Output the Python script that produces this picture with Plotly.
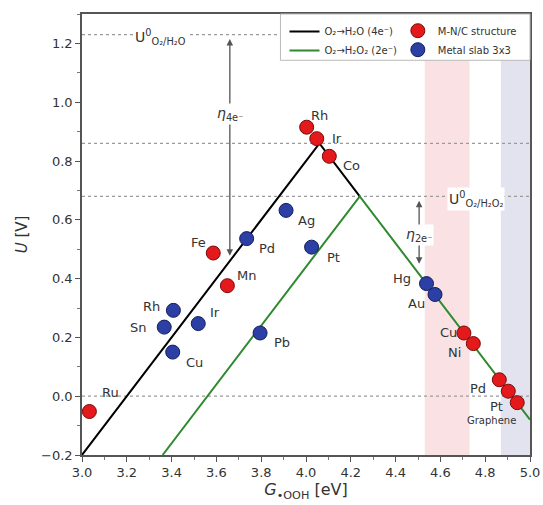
import plotly.graph_objects as go

# ---- data ----
mnc_names = ["Ru", "Fe", "Mn", "Rh", "Ir", "Co", "Cu", "Ni", "Pd", "Pt", "Graphene"]
mnc_g = [3.033, 3.586, 3.649, 4.003, 4.048, 4.104, 4.705, 4.747, 4.863, 4.903, 4.943]
mnc_u = [-0.052, 0.487, 0.376, 0.915, 0.876, 0.816, 0.215, 0.179, 0.056, 0.017, -0.022]

slab_names = ["Rh", "Sn", "Ir", "Cu", "Pd", "Ag", "Pt", "Pb", "Hg", "Au"]
slab_g = [3.408, 3.367, 3.519, 3.405, 3.735, 3.911, 4.025, 3.795, 4.538, 4.576]
slab_u = [0.292, 0.235, 0.247, 0.150, 0.536, 0.632, 0.507, 0.215, 0.383, 0.346]

line4e_g = [3.0, 4.06, 4.24]
line4e_u = [-0.2, 0.86, 0.68]
line2e_g = [3.36, 4.24, 5.0]
line2e_u = [-0.2, 0.68, -0.08]

ref_levels = [1.23, 0.86, 0.68, 0.0]
pink_band = [4.53, 4.73]
lavender_band = [4.87, 5.0]

# label offsets (layout only)
mnc_off = [(0.095, 0.065), (-0.067, 0.037), (0.086, 0.034), (0.059, 0.04), (0.092, 0.0),
           (0.10, -0.031), (-0.07, 0.0), (-0.082, -0.032), (-0.097, -0.031), (-0.052, -0.052),
           (-0.114, -0.062)]
slab_off = [(-0.097, 0.013), (-0.116, 0.0), (0.075, 0.039), (0.099, -0.034), (0.089, -0.034),
            (0.092, -0.034), (0.097, -0.034), (0.096, -0.034), (-0.111, 0.017), (-0.082, -0.032)]

FONT = "DejaVu Sans"
TXT = "#333333"

fig = go.Figure()

fig.add_trace(go.Scatter(x=line4e_g, y=line4e_u, mode="lines",
                         line=dict(color="black", width=2),
                         name="O₂→H₂O (4e⁻)", legend="legend"))
fig.add_trace(go.Scatter(x=line2e_g, y=line2e_u, mode="lines",
                         line=dict(color="#2f8a2f", width=2),
                         name="O₂→H₂O₂ (2e⁻)", legend="legend"))
fig.add_trace(go.Scatter(x=mnc_g, y=mnc_u, mode="markers",
                         marker=dict(size=14, color="#e3191c", line=dict(color="#7a0a0a", width=1)),
                         name="M-N/C structure", legend="legend2"))
fig.add_trace(go.Scatter(x=slab_g, y=slab_u, mode="markers",
                         marker=dict(size=14, color="#2b3fa5", line=dict(color="#141c5c", width=1)),
                         name="Metal slab 3x3", legend="legend2"))

shapes = []
shapes.append(dict(type="rect", xref="x", yref="paper", x0=pink_band[0], x1=pink_band[1],
                   y0=0, y1=1, fillcolor="rgba(245,190,195,0.45)", line_width=0, layer="below"))
shapes.append(dict(type="rect", xref="x", yref="paper", x0=lavender_band[0], x1=lavender_band[1],
                   y0=0, y1=1, fillcolor="rgba(200,200,225,0.5)", line_width=0, layer="below"))
for lv in ref_levels:
    shapes.append(dict(type="line", xref="paper", yref="y", x0=0, x1=1, y0=lv, y1=lv,
                       line=dict(color="#9a9a9a", width=1.3, dash="dot"), layer="below"))
# legend frame
shapes.append(dict(type="rect", xref="paper", yref="paper", x0=0.443, x1=1.0, y0=0.895, y1=1.0,
                   fillcolor="white", line=dict(color="#bbbbbb", width=1), layer="above"))

annotations = []
for n, gx, uy, (dx, dy) in zip(mnc_names, mnc_g, mnc_u, mnc_off):
    annotations.append(dict(x=gx + dx, y=uy + dy, text=n, showarrow=False,
                            font=dict(family=FONT, size=10 if n == "Graphene" else 13, color=TXT)))
for n, gx, uy, (dx, dy) in zip(slab_names, slab_g, slab_u, slab_off):
    annotations.append(dict(x=gx + dx, y=uy + dy, text=n, showarrow=False,
                            font=dict(family=FONT, size=13, color=TXT)))

# overpotential arrows
annotations.append(dict(x=3.66, y=1.215, ax=3.66, ay=0.473, xref="x", yref="y", axref="x", ayref="y",
                        text="", showarrow=True, arrowhead=2, arrowside="end+start", arrowsize=1,
                        arrowwidth=1.3, arrowcolor="#555555"))
annotations.append(dict(x=4.505, y=0.665, ax=4.505, ay=0.445, xref="x", yref="y", axref="x", ayref="y",
                        text="", showarrow=True, arrowhead=2, arrowside="end+start", arrowsize=1,
                        arrowwidth=1.3, arrowcolor="#555555"))
annotations.append(dict(x=3.66, y=0.96, text="<i>η</i><sub>4e⁻</sub>", showarrow=False,
                        bgcolor="white", font=dict(family=FONT, size=14, color=TXT)))
annotations.append(dict(x=4.505, y=0.55, text="<i>η</i><sub>2e⁻</sub>", showarrow=False,
                        bgcolor="white", font=dict(family=FONT, size=14, color=TXT)))
annotations.append(dict(x=3.35, y=1.222, text="U<sup>0</sup><sub>O₂/H₂O</sub>", showarrow=False,
                        bgcolor="white", font=dict(family=FONT, size=14, color=TXT)))
annotations.append(dict(x=4.76, y=0.67, text="U<sup>0</sup><sub>O₂/H₂O₂</sub>", showarrow=False,
                        bgcolor="white", font=dict(family=FONT, size=14, color=TXT)))

axis_common = dict(showline=True, linecolor="#555555", linewidth=1.5, mirror=True,
                   ticks="outside", ticklen=5, tickwidth=1.2, tickcolor="#555555",
                   showgrid=False, zeroline=False, automargin=False,
                   tickfont=dict(family=FONT, size=13, color=TXT))

fig.update_layout(
    width=543, height=505,
    margin=dict(l=82, r=13, t=14, b=50),
    plot_bgcolor="white", paper_bgcolor="white",
    showlegend=True,
    shapes=shapes, annotations=annotations,
    xaxis=dict(range=[3.0, 5.0], dtick=0.2, tickformat=".1f",
               minor=dict(dtick=0.1, ticks="outside", ticklen=3, tickcolor="#777777"),
               title=dict(text="<i>G</i><sub>•OOH</sub> [eV]", standoff=3,
                          font=dict(family=FONT, size=16, color=TXT)),
               **axis_common),
    yaxis=dict(range=[-0.2, 1.3], dtick=0.2, tickformat=".1f",
               minor=dict(dtick=0.1, ticks="outside", ticklen=3, tickcolor="#777777"),
               title=dict(text="<i>U</i> [V]", standoff=10,
                          font=dict(family=FONT, size=15, color=TXT)),
               **axis_common),
    legend=dict(x=0.452, y=0.993, xanchor="left", yanchor="top", bgcolor="rgba(0,0,0,0)",
                font=dict(family=FONT, size=10, color=TXT), tracegroupgap=0, itemwidth=30),
    legend2=dict(x=0.705, y=0.995, xanchor="left", yanchor="top", bgcolor="rgba(0,0,0,0)",
                 font=dict(family=FONT, size=10, color=TXT), tracegroupgap=0),
)

# remove the page's default body margin so the figure fills the window exactly
fig.write_html("out.html", config={"displayModeBar": False},
               post_script="document.body.style.margin='0';")
